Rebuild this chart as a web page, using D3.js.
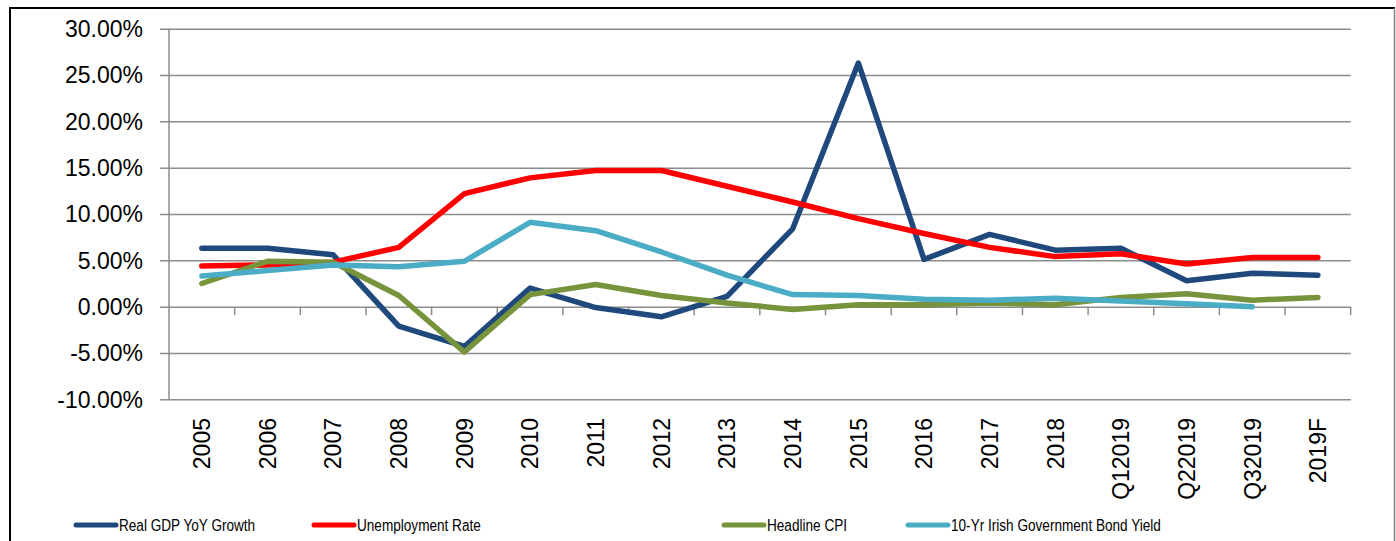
<!DOCTYPE html>
<html>
<head>
<meta charset="utf-8">
<script src="https://cdnjs.cloudflare.com/ajax/libs/d3/7.8.5/d3.min.js"></script>
<style>
  html, body { margin: 0; padding: 0; background: #fff; }
  svg { display: block; }
</style>
</head>
<body>
<svg id="chart" width="1396" height="541"></svg>
<script>
const categories = ["2005","2006","2007","2008","2009","2010","2011","2012","2013","2014","2015","2016","2017","2018","Q12019","Q22019","Q32019","2019F"];
const gdpGrowth   = [6.3, 6.3, 5.6, -2.1, -4.3, 2.0, -0.1, -1.1, 1.1, 8.4, 26.3, 5.1, 7.8, 6.1, 6.3, 2.8, 3.6, 3.4];
const unemployment = [4.4, 4.5, 4.8, 6.4, 12.2, 13.9, 14.7, 14.7, 13.0, 11.3, 9.5, 7.9, 6.4, 5.4, 5.7, 4.6, 5.3, 5.3];
const headlineCPI = [2.5, 4.9, 4.8, 1.2, -4.9, 1.3, 2.4, 1.2, 0.4, -0.3, 0.2, 0.2, 0.4, 0.2, 1.0, 1.4, 0.7, 1.0];
const bondYield   = [3.3, 3.9, 4.5, 4.3, 4.9, 9.1, 8.2, 5.9, 3.4, 1.3, 1.2, 0.8, 0.7, 0.9, 0.6, 0.3, 0.0, null];
const yTicks = [-10, -5, 0, 5, 10, 15, 20, 25, 30];

const seriesNames = ["Real GDP YoY Growth", "Unemployment Rate", "Headline CPI", "10-Yr Irish Government Bond Yield"];
const seriesColors = ["#1F497D", "#FF0000", "#77933C", "#4BACC6"];
const seriesData = [gdpGrowth, unemployment, headlineCPI, bondYield];

const svg = d3.select("#chart");

// chart border
svg.append("line").attr("x1", 10).attr("x2", 10).attr("y1", 8).attr("y2", 541).attr("stroke", "#000").attr("stroke-width", 2);
svg.append("line").attr("x1", 9).attr("x2", 1395).attr("y1", 8).attr("y2", 8).attr("stroke", "#000").attr("stroke-width", 2);
svg.append("line").attr("x1", 1394.5).attr("x2", 1394.5).attr("y1", 8).attr("y2", 541).attr("stroke", "#7f7f7f").attr("stroke-width", 1.5);

const plotLeft = 169, plotRight = 1350.7, plotTop = 28.7, plotBottom = 399.3;
const x = d3.scaleBand().domain(categories).range([plotLeft, plotRight]).padding(0);
const y = d3.scaleLinear().domain([-10, 30]).range([plotBottom, plotTop]);
const cx = d => x(d) + x.bandwidth() / 2;

const grid = "#8c8c8c";

// gridlines + y labels
const yAxis = d3.axisLeft(y).tickValues(yTicks).tickSize(0)
  .tickFormat(d => d.toFixed(2) + "%");
const gy = svg.append("g").attr("transform", `translate(${plotRight},0)`).call(yAxis);
gy.select(".domain").remove();
gy.selectAll(".tick line").attr("stroke", grid).attr("stroke-width", 1.5)
  .attr("x1", -(plotRight - plotLeft) - 9).attr("x2", 0);
gy.selectAll(".tick text")
  .attr("x", -(plotRight - 143))
  .attr("dy", "0.34em")
  .attr("font-family", "'Liberation Sans', Arial, sans-serif")
  .attr("font-size", 23).attr("fill", "#000").attr("text-anchor", "end");

// y axis line
svg.append("line").attr("x1", plotLeft).attr("x2", plotLeft).attr("y1", plotTop).attr("y2", plotBottom)
  .attr("stroke", grid).attr("stroke-width", 1.5);

// category axis at zero with boundary ticks
const boundaries = categories.map(c => x(c)).concat([plotRight]).slice(1);
svg.append("g").selectAll("line").data(boundaries).join("line")
  .attr("x1", d => d).attr("x2", d => d)
  .attr("y1", y(0)).attr("y2", y(0) + 8.5)
  .attr("stroke", grid).attr("stroke-width", 1.5);

// category labels
svg.append("g").selectAll("text").data(categories).join("text")
  .attr("transform", d => `translate(${cx(d)},418) rotate(-90)`)
  .attr("dy", "0.36em")
  .attr("text-anchor", "end")
  .attr("font-family", "'Liberation Sans', Arial, sans-serif")
  .attr("font-size", 23).attr("fill", "#000")
  .text(d => d);

// series lines
const line = d3.line()
  .defined(d => d.v !== null)
  .x(d => cx(d.c)).y(d => y(d.v));

seriesData.forEach((vals, i) => {
  const pts = categories.map((c, j) => ({ c, v: vals[j] }));
  svg.append("path").datum(pts)
    .attr("d", line)
    .attr("fill", "none")
    .attr("stroke", seriesColors[i])
    .attr("stroke-width", 5.5)
    .attr("stroke-linejoin", "round")
    .attr("stroke-linecap", "round");
});

// legend
const legendX = [76, 314, 724, 908];
const lg = svg.append("g");
seriesNames.forEach((name, i) => {
  lg.append("line").attr("x1", legendX[i]).attr("x2", legendX[i] + 40)
    .attr("y1", 525).attr("y2", 525)
    .attr("stroke", seriesColors[i]).attr("stroke-width", 5).attr("stroke-linecap", "round");
  lg.append("text")
    .attr("transform", `translate(${legendX[i] + 43},525) scale(0.8,1)`)
    .attr("dy", "0.35em")
    .attr("font-family", "'Liberation Sans', Arial, sans-serif")
    .attr("font-size", 17).attr("fill", "#000")
    .text(name);
});
</script>
</body>
</html>
